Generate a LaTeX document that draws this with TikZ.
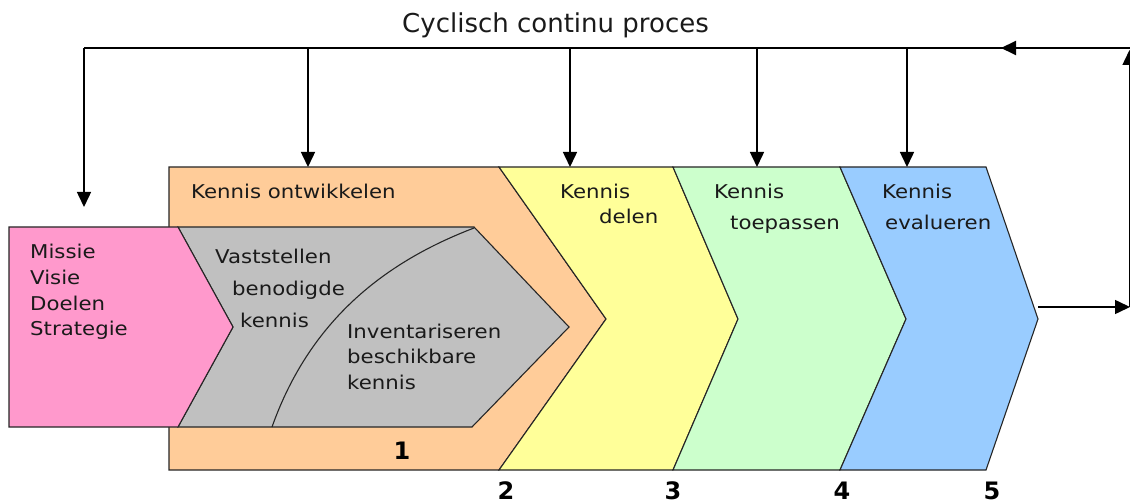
\documentclass[tikz,border=0pt]{standalone}
\usepackage{fontspec}
\setmainfont{DejaVu Sans}
\newfontfamily\bodyfont[FakeStretch=1.12]{DejaVu Sans}
\usetikzlibrary{arrows.meta}

\definecolor{pinkfill}{HTML}{FF99CC}
\definecolor{greyfill}{HTML}{C0C0C0}
\definecolor{peachfill}{HTML}{FFCC99}
\definecolor{yellowfill}{HTML}{FFFF99}
\definecolor{greenfill}{HTML}{CCFFCC}
\definecolor{bluefill}{HTML}{99CCFF}
\definecolor{outline}{HTML}{262626}
\definecolor{ink}{HTML}{1A1A1A}

\tikzset{
  stage/.style={draw=outline, line width=1.1bp, line join=miter},
  txt/.style={font=\bodyfont\fontsize{19bp}{24bp}\selectfont, text=ink,
              inner sep=0pt, anchor=base west},
  numtxt/.style={font=\bfseries\fontsize{24bp}{26bp}\selectfont, text=black,
                 inner sep=0pt, anchor=base},
  loopline/.style={draw=black, line width=2bp},
  feed/.style={draw=black, line width=1.5bp,
               -{Triangle[length=15bp,width=14bp]}},
}

\begin{document}
\begin{tikzpicture}[x=1bp,y=-1bp]
\useasboundingbox (0,0) rectangle (1130,504);

% ---- outer stage chevrons ----
\path[stage, fill=peachfill]
  (169,167) -- (499,167) -- (606,319) -- (499,470) -- (169,470) -- cycle;
\path[stage, fill=yellowfill]
  (499,167) -- (673,167) -- (738,319) -- (673,470) -- (499,470) -- (606,319) -- cycle;
\path[stage, fill=greenfill]
  (673,167) -- (840,167) -- (906,319) -- (840,470) -- (673,470) -- (738,319) -- cycle;
\path[stage, fill=bluefill]
  (840,167) -- (986,167) -- (1038,319) -- (986,470) -- (840,470) -- (906,319) -- cycle;

% ---- inner chevrons ----
\path[stage, fill=greyfill]
  (178,227) -- (474,227) -- (569,327) -- (472,427) -- (178,427) -- (233,327) -- cycle;
\path[stage, fill=pinkfill]
  (9,227) -- (178,227) -- (233,327) -- (178,427) -- (9,427) -- cycle;
\draw[outline, line width=1.1bp]
  (474,228) .. controls (385,262) and (310,320) .. (272,427);

% ---- anchor points of the connectors ----
\coordinate (missie-in) at (84,207);
\coordinate (ontw-in)   at (308,167);
\coordinate (delen-in)  at (570,167);
\coordinate (toep-in)   at (757,167);
\coordinate (eval-in)   at (907,167);
\coordinate (eval-out)  at (1038,307);
\coordinate (out-end)   at (1130,307);
\coordinate (ret-low)   at (1129.5,307);
\coordinate (ret-top)   at (1129.5,50);
\coordinate (top-right) at (1130,48);
\coordinate (top-left)  at (84,48);

% ---- cyclic loop ----
\draw[feed] (eval-out) -- (out-end);
\draw[feed] (ret-low) -- (ret-top);
\draw[loopline] (top-right) -- (top-left);
\draw[draw=black, line width=2bp, -{Triangle[length=15bp,width=14bp]}]
  (1030,48) -- (1001,48);
\draw[feed] (top-left) -- (missie-in);
\draw[feed] (308,48) -- (ontw-in);
\draw[feed] (570,48) -- (delen-in);
\draw[feed] (757,48) -- (toep-in);
\draw[feed] (907,48) -- (eval-in);

% ---- title ----
\node[font=\fontsize{26bp}{30bp}\selectfont, text=ink, inner sep=0pt, anchor=base]
  (title) at (555.5,33) {Cyclisch continu proces};

% ---- labels ----
\node[txt] (l-missie)   at (30,259) {Missie};
\node[txt] (l-visie)    at (30,285) {Visie};
\node[txt] (l-doelen)   at (30,311) {Doelen};
\node[txt] (l-strat)    at (30,336) {Strategie};

\node[txt] (l-vast)     at (215,264) {Vaststellen};
\node[txt] (l-beno)     at (232,296) {benodigde};
\node[txt] (l-kennis1)  at (240,328) {kennis};

\node[txt] (l-inv)      at (347,339) {Inventariseren};
\node[txt] (l-besch)    at (347,364) {beschikbare};
\node[txt] (l-kennis2)  at (347,389) {kennis};

\node[txt] (l-ontw)     at (191,199) {Kennis ontwikkelen};
\node[txt] (l-delen1)   at (560,199) {Kennis};
\node[txt] (l-delen2)   at (599,224) {delen};
\node[txt] (l-toep1)    at (714,199) {Kennis};
\node[txt] (l-toep2)    at (730,230) {toepassen};
\node[txt] (l-eval1)    at (882,199) {Kennis};
\node[txt] (l-eval2)    at (885,230) {evalueren};

% ---- stage numbers ----
\node[numtxt] (n1) at (402,459) {1};
\node[numtxt] (n2) at (506,499) {2};
\node[numtxt] (n3) at (673,499) {3};
\node[numtxt] (n4) at (842,499) {4};
\node[numtxt] (n5) at (992,499) {5};
\end{tikzpicture}
\end{document}
